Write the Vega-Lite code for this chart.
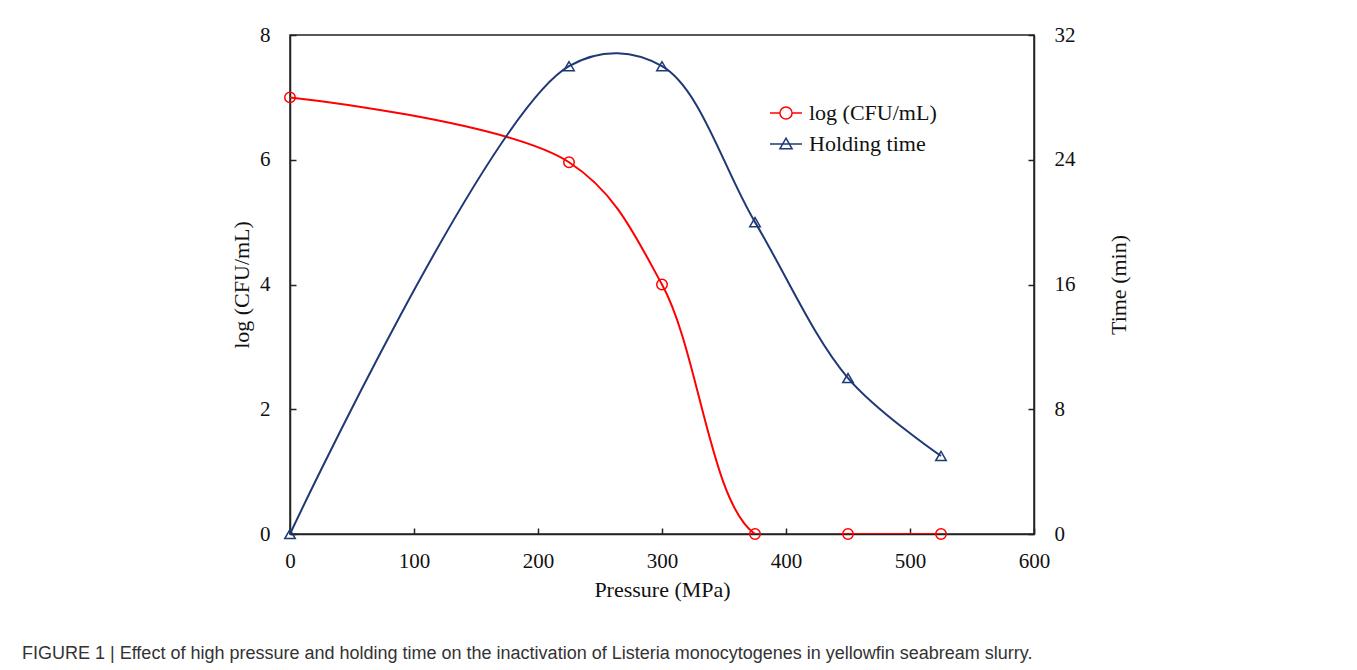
{
  "$schema": "https://vega.github.io/schema/vega-lite/v6.json",
  "width": 744,
  "height": 499,
  "autosize": {"type": "none"},
  "padding": {"left": 290, "top": 35, "right": 323, "bottom": 136},
  "background": "white",
  "config": {
    "view": {"stroke": "#222", "strokeWidth": 1.5},
    "font": "Liberation Serif",
    "axis": {
      "labelFont": "Liberation Serif",
      "titleFont": "Liberation Serif",
      "labelFontSize": 21,
      "titleFontSize": 22,
      "labelColor": "#111",
      "titleColor": "#111",
      "titleFontWeight": "normal",
      "domainColor": "#222",
      "domainWidth": 1.5,
      "tickColor": "#222",
      "tickWidth": 1.5,
      "tickSize": -6,
      "labelFlush": false,
      "grid": false
    }
  },
  "title": {
    "text": "FIGURE 1 | Effect of high pressure and holding time on the inactivation of Listeria monocytogenes in yellowfin seabream slurry.",
    "orient": "bottom",
    "anchor": "start",
    "frame": "group",
    "dx": -268,
    "offset": 45,
    "font": "Liberation Sans",
    "fontSize": 18,
    "fontWeight": "normal",
    "color": "#333"
  },
  "data": {
    "values": [
      {"pressure": 0, "value": 7, "series": "log (CFU/mL)"},
      {"pressure": 225, "value": 5.96, "series": "log (CFU/mL)"},
      {"pressure": 300, "value": 4, "series": "log (CFU/mL)"},
      {"pressure": 375, "value": 0, "series": "log (CFU/mL)"},
      {"pressure": 450, "value": 0, "series": "log (CFU/mL)"},
      {"pressure": 525, "value": 0, "series": "log (CFU/mL)"},
      {"pressure": 0, "value": 0, "series": "Holding time"},
      {"pressure": 225, "value": 30, "series": "Holding time"},
      {"pressure": 300, "value": 30, "series": "Holding time"},
      {"pressure": 375, "value": 20, "series": "Holding time"},
      {"pressure": 450, "value": 10, "series": "Holding time"},
      {"pressure": 525, "value": 5, "series": "Holding time"}
    ]
  },
  "encoding": {
    "x": {
      "field": "pressure",
      "type": "quantitative",
      "scale": {"domain": [0, 600], "nice": false},
      "axis": {"values": [0, 100, 200, 300, 400, 500, 600], "title": "Pressure (MPa)", "labelPadding": 22, "titlePadding": 8}
    },
    "color": {
      "field": "series",
      "type": "nominal",
      "scale": {"domain": ["log (CFU/mL)", "Holding time"], "range": ["#ff0000", "#1f3876"]},
      "legend": {
        "title": null,
        "orient": "none",
        "legendX": 479,
        "legendY": 61,
        "padding": 0,
        "symbolSize": 1024,
        "symbolStrokeWidth": 1.5,
        "labelFont": "Liberation Serif",
        "labelFontSize": 22,
        "labelColor": "#111",
        "labelOffset": 6,
        "rowPadding": 3,
        "encode": {
          "symbols": {
            "update": {
              "shape": {"signal": "datum.value === 'Holding time' ? 'M-1,0H1M0,-0.36L0.38,0.3L-0.38,0.3Z' : 'M-1,0H-0.38M0.38,0H1M0.38,0A0.38,0.38,0,1,1,-0.38,0A0.38,0.38,0,1,1,0.38,0'"},
              "fill": {"value": "transparent"},
              "stroke": {"scale": "color", "field": "value"},
              "strokeWidth": {"value": 1.5}
            }
          }
        }
      }
    }
  },
  "layer": [
    {
      "transform": [{"filter": "datum.series === 'log (CFU/mL)'"}],
      "encoding": {
        "y": {
          "field": "value",
          "type": "quantitative",
          "scale": {"domain": [0, 8], "nice": false},
          "axis": {"orient": "left", "values": [0, 2, 4, 6, 8], "title": "log (CFU/mL)", "labelPadding": 26, "titlePadding": 6}
        }
      },
      "layer": [
        {"mark": {"type": "line", "interpolate": "catmull-rom", "strokeWidth": 2, "clip": true}},
        {"mark": {"type": "point", "shape": "circle", "filled": false, "size": 110, "strokeWidth": 1.5, "opacity": 1}}
      ]
    },
    {
      "transform": [{"filter": "datum.series === 'Holding time'"}],
      "encoding": {
        "y": {
          "field": "value",
          "type": "quantitative",
          "scale": {"domain": [0, 32], "nice": false},
          "axis": {"orient": "right", "values": [0, 8, 16, 24, 32], "title": "Time (min)", "titleAngle": 270, "labelPadding": 26, "titlePadding": 55}
        }
      },
      "layer": [
        {"mark": {"type": "line", "interpolate": "catmull-rom", "strokeWidth": 2}},
        {"mark": {"type": "point", "shape": "triangle-up", "filled": false, "size": 110, "strokeWidth": 1.5, "opacity": 1}}
      ]
    }
  ],
  "resolve": {"scale": {"y": "independent"}}
}
